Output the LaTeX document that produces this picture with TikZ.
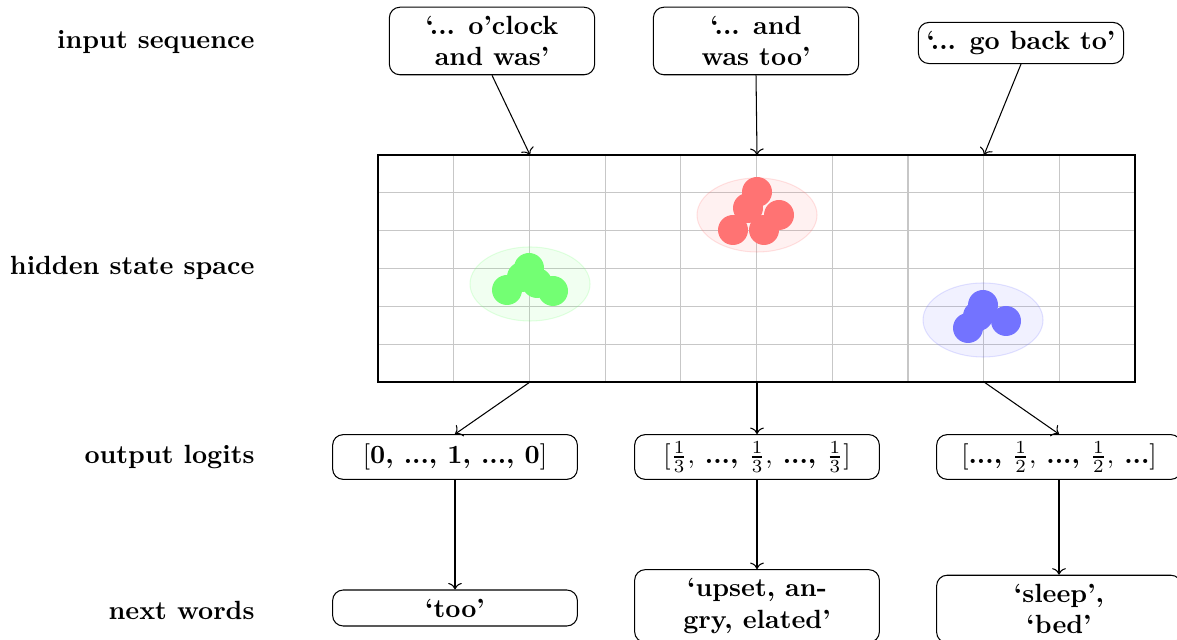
\documentclass[tikz,border=0pt]{standalone}
\usetikzlibrary{arrows.meta}
\begin{document}
\begin{tikzpicture}[x=0.38pt,y=-0.38pt,
  box/.style={draw, rounded corners=4pt, font=\bfseries, align=center, inner xsep=3pt, line width=0.4pt},
  topbox/.style={box, minimum width=78pt},
  logbox/.style={box, minimum width=93pt, minimum height=17pt, inner ysep=2pt},
  wordbox/.style={box, minimum width=93pt},
  lab/.style={font=\bfseries, anchor=east, inner sep=0pt},
  conn/.style={->, line width=0.4pt},
  gridline/.style={black!22, line width=0.45pt}
]
\useasboundingbox (0,0) rectangle (1177,640);

% left labels
\node[lab] (l1) at (255,42) {input sequence};
\node[lab] (l2) at (255,268) {hidden state space};
\node[lab] (l3) at (255,457) {output logits};
\node[lab] (l4) at (255,610) {next words};

% hidden state space grid
\foreach \i in {1,...,9} \draw[gridline] (378+\i*75.7,155) -- (378+\i*75.7,382);
\foreach \j in {1,...,5} \draw[gridline] (378,155+\j*37.83) -- (1135,155+\j*37.83);

% clusters
\fill[green!55, opacity=0.1] (530,284) ellipse [x radius=60, y radius=37];
\draw[green!55, opacity=0.2] (530,284) ellipse [x radius=60, y radius=37];
\foreach \p in {(507,290),(529,268),(522,277),(553,291),(537,283)} \fill[green!55] \p circle [radius=15];

\fill[red!55, opacity=0.1] (757,215) ellipse [x radius=60, y radius=37];
\draw[red!55, opacity=0.2] (757,215) ellipse [x radius=60, y radius=37];
\foreach \p in {(757,192),(748,208),(779,215),(733,230),(764,230)} \fill[red!55] \p circle [radius=15];

\fill[blue!55, opacity=0.1] (983,320) ellipse [x radius=60, y radius=37];
\draw[blue!55, opacity=0.2] (983,320) ellipse [x radius=60, y radius=37];
\foreach \p in {(983,305),(968,328),(1006,321),(978,316)} \fill[blue!55] \p circle [radius=15];

\node[draw, line width=0.8pt, minimum width=287.66pt, minimum height=86.26pt, inner sep=0pt] (hs) at (756.5,268.5) {};

\coordinate (t1) at (530,155);
\coordinate (t2) at (757,155);
\coordinate (t3) at (984,155);
\coordinate (b1) at (530,382);
\coordinate (b2) at (757,382);
\coordinate (b3) at (984,382);

% input boxes
\node[topbox] (in1) at (492,41) {‘... o’clock\\and was’};
\node[topbox] (in2) at (756,41) {‘... and\\was too’};
\node[topbox] (in3) at (1021,43) {‘... go back to’};

% output logits
\node[logbox] (out1) at (455,457) {$[$0, ..., 1, ..., 0$]$};
\node[logbox] (out2) at (757,457) {$[\frac{1}{3},$ ..., $\frac{1}{3},$ ..., $\frac{1}{3}]$};
\node[logbox] (out3) at (1059,457) {$[$..., $\frac{1}{2},$ ..., $\frac{1}{2},$ ...$]$};

% next words
\node[wordbox] (w1) at (455,608) {‘too’};
\node[wordbox] (w2) at (757,606) {‘upset, an-\\gry, elated’};
\node[wordbox] (w3) at (1059,609) {‘sleep’,\\‘bed’};

% connectors
\draw[conn] (in1.south) -- (t1);
\draw[conn] (in2.south) -- (t2);
\draw[conn] (in3.south) -- (t3);
\draw[conn] (b1) -- (out1.north);
\draw[conn] (b2) -- (out2.north);
\draw[conn] (b3) -- (out3.north);
\draw[conn] (out1.south) -- (w1.north);
\draw[conn] (out2.south) -- (w2.north);
\draw[conn] (out3.south) -- (w3.north);
\end{tikzpicture}
\end{document}
